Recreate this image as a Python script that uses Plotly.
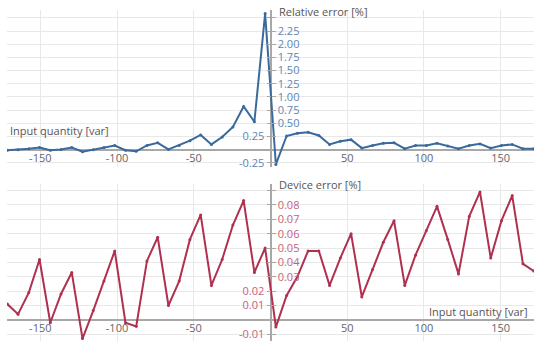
import plotly.graph_objects as go

# x positions (input quantity, var)
x_start = -171.5
x_step = 7.0
n_points = 50
input_quantity = [x_start + x_step * k for k in range(n_points)]

relative_error = [
    -0.01, 0.00, 0.02, 0.04, -0.01, 0.005, 0.04, -0.04, 0.00, 0.04,
    0.08, -0.01, -0.03, 0.08, 0.13, 0.005, 0.08, 0.17, 0.28, 0.10,
    0.24, 0.43, 0.82, 0.53, 2.58,
    -0.28, 0.26, 0.31, 0.33, 0.27, 0.10, 0.16, 0.19, 0.03, 0.08,
    0.12, 0.13, 0.02, 0.08, 0.08, 0.12, 0.07, 0.02, 0.08, 0.11,
    0.03, 0.08, 0.10, 0.02, 0.02,
]

device_error = [
    0.011, 0.004, 0.019, 0.042, -0.002, 0.018, 0.033, -0.013, 0.0065, 0.027,
    0.048, -0.002, -0.0045, 0.041, 0.0575, 0.010, 0.027, 0.056, 0.073, 0.024,
    0.042, 0.066, 0.083, 0.033, 0.050,
    -0.005, 0.017, 0.030, 0.048, 0.048, 0.024, 0.043, 0.060, 0.016, 0.035,
    0.054, 0.069, 0.024, 0.045, 0.062, 0.079, 0.056, 0.032, 0.072, 0.089,
    0.043, 0.069, 0.0865, 0.039, 0.034,
]

x_ticks = [-150, -100, -50, 50, 100, 150]
rel_ticks = [-0.25, 0.25, 0.5, 0.75, 1.0, 1.25, 1.5, 1.75, 2.0, 2.25, 2.5]
rel_left_vals = [-0.25, 0.25]
rel_left_text = ["-0.25", "0.25"]
rel_right_vals = [0.5, 0.75, 1.0, 1.25, 1.5, 1.75, 2.0, 2.25]
rel_right_text = ["0.50", "0.75", "1.00", "1.25", "1.50", "1.75", "2.00", "2.25"]
dev_ticks = [-0.01, 0.01, 0.02, 0.03, 0.04, 0.05, 0.06, 0.07, 0.08, 0.09]
dev_left_vals = [-0.01, 0.01, 0.02]
dev_left_text = ["-0.01", "0.01", "0.02"]
dev_right_vals = [0.03, 0.04, 0.05, 0.06, 0.07, 0.08]
dev_right_text = ["0.03", "0.04", "0.05", "0.06", "0.07", "0.08"]

W, H = 534, 344
BLUE = "#3a6a9c"
BLUE_TXT = "#5d86b6"
RED = "#b0304f"
RED_TXT = "#c4637d"
GRID = "#e8e8e8"
AXIS = "#a8a8a8"
FONT = "Open Sans"

x_range = [-171.7, 171.7]
x_dom = [7 / W, 1.0]
y0_paper = 270.5 / W

top_dom = [(H - 168) / H, (H - 10) / H]
top_range = [-0.3195, 2.650]
top_xpos = (H - 151) / H
bot_dom = [0.0, (H - 186) / H]
bot_range = [-0.01469, 0.09428]
bot_xpos = (H - 322.7) / H

fig = go.Figure()
fig.add_trace(go.Scatter(x=input_quantity, y=relative_error, mode="lines+markers",
                         line=dict(color=BLUE, width=2), marker=dict(size=3, color=BLUE),
                         xaxis="x", yaxis="y", showlegend=False))
fig.add_trace(go.Scatter(x=input_quantity, y=device_error, mode="lines+markers",
                         line=dict(color=RED, width=2), marker=dict(size=3, color=RED),
                         xaxis="x2", yaxis="y2", showlegend=False))
# empty traces to keep the overlay tick/label axes drawn
for ya, xa in [("y3", "x"), ("y5", "x"), ("y4", "x2"), ("y6", "x2")]:
    fig.add_trace(go.Scatter(x=[], y=[], xaxis=xa, yaxis=ya, showlegend=False))

tf = dict(family=FONT, size=11)


def xaxis(pos):
    return dict(domain=x_dom, range=x_range, anchor="free", position=pos,
                tickvals=x_ticks, ticktext=[str(v) for v in x_ticks],
                showgrid=True, gridcolor=GRID, gridwidth=1,
                zeroline=True, zerolinecolor=AXIS, zerolinewidth=1.5,
                showline=False, ticks="", tickfont=dict(tf, color="#666666"))


def yaxis(dom, rng, side, vals, text, color, grid=False, overlay=None):
    d = dict(domain=dom, range=rng, anchor="free", position=y0_paper, side=side,
             tickvals=vals, ticktext=text,
             showline=False, ticks="outside", ticklen=4, tickcolor=AXIS,
             tickfont=dict(tf, color=color))
    if grid:
        d.update(showgrid=True, gridcolor=GRID, gridwidth=1,
                 zeroline=True, zerolinecolor=AXIS, zerolinewidth=1.5)
    else:
        d.update(showgrid=False, zeroline=False)
    if overlay:
        d["overlaying"] = overlay
    return d


y_top = yaxis(top_dom, top_range, "right", rel_right_vals, rel_right_text, BLUE_TXT, grid=True)
y_bot = yaxis(bot_dom, bot_range, "right", dev_right_vals, dev_right_text, RED_TXT, grid=True)

fig.update_layout(
    width=W, height=H,
    margin=dict(l=0, r=0, t=0, b=0),
    paper_bgcolor="white", plot_bgcolor="white",
    font=dict(family=FONT, size=11, color="#555555"),
    xaxis=xaxis(top_xpos),
    xaxis2=xaxis(bot_xpos),
    yaxis=y_top,
    yaxis2=y_bot,
    # left-side labels
    yaxis3=yaxis(top_dom, top_range, "left", rel_left_vals, rel_left_text, BLUE_TXT, overlay="y"),
    yaxis4=yaxis(bot_dom, bot_range, "left", dev_left_vals, dev_left_text, RED_TXT, overlay="y2"),
    # cross ticks (no labels) at every grid value
    yaxis5=dict(yaxis(top_dom, top_range, "left", rel_ticks, None, BLUE_TXT, overlay="y"),
                showticklabels=False),
    yaxis6=dict(yaxis(bot_dom, bot_range, "left", dev_ticks, None, RED_TXT, overlay="y2"),
                showticklabels=False),
)
# gridlines + right ticks at every grid value via minor ticks
fig.update_layout(
    yaxis_minor=dict(tickvals=rel_ticks, showgrid=True, gridcolor=GRID, ticks="outside",
                     ticklen=4, tickcolor=AXIS),
    yaxis2_minor=dict(tickvals=dev_ticks, showgrid=True, gridcolor=GRID, ticks="outside",
                      ticklen=4, tickcolor=AXIS),
)

ann = dict(xref="paper", yref="paper", showarrow=False,
           font=dict(family=FONT, size=11, color="#555555"))
fig.add_annotation(text="Relative error [%]", x=277 / W, y=(H - 12) / H,
                   xanchor="left", yanchor="middle", **ann)
fig.add_annotation(text="Device error [%]", x=277 / W, y=(H - 186) / H,
                   xanchor="left", yanchor="middle", **ann)
fig.add_annotation(text="Input quantity [var]", x=8 / W, y=(H - 132) / H,
                   xanchor="left", yanchor="middle", **ann)
fig.add_annotation(text="Input quantity [var]", x=530 / W, y=(H - 314) / H,
                   xanchor="right", yanchor="middle", **ann)

fig.write_html("out.html", config={"displayModeBar": False})

# remove the default page margin so the 534x344 figure fills the window exactly
with open("out.html", encoding="utf-8") as f:
    html = f.read()
html = html.replace("<body>", '<body style="margin:0;overflow:hidden">', 1)
with open("out.html", "w", encoding="utf-8") as f:
    f.write(html)
